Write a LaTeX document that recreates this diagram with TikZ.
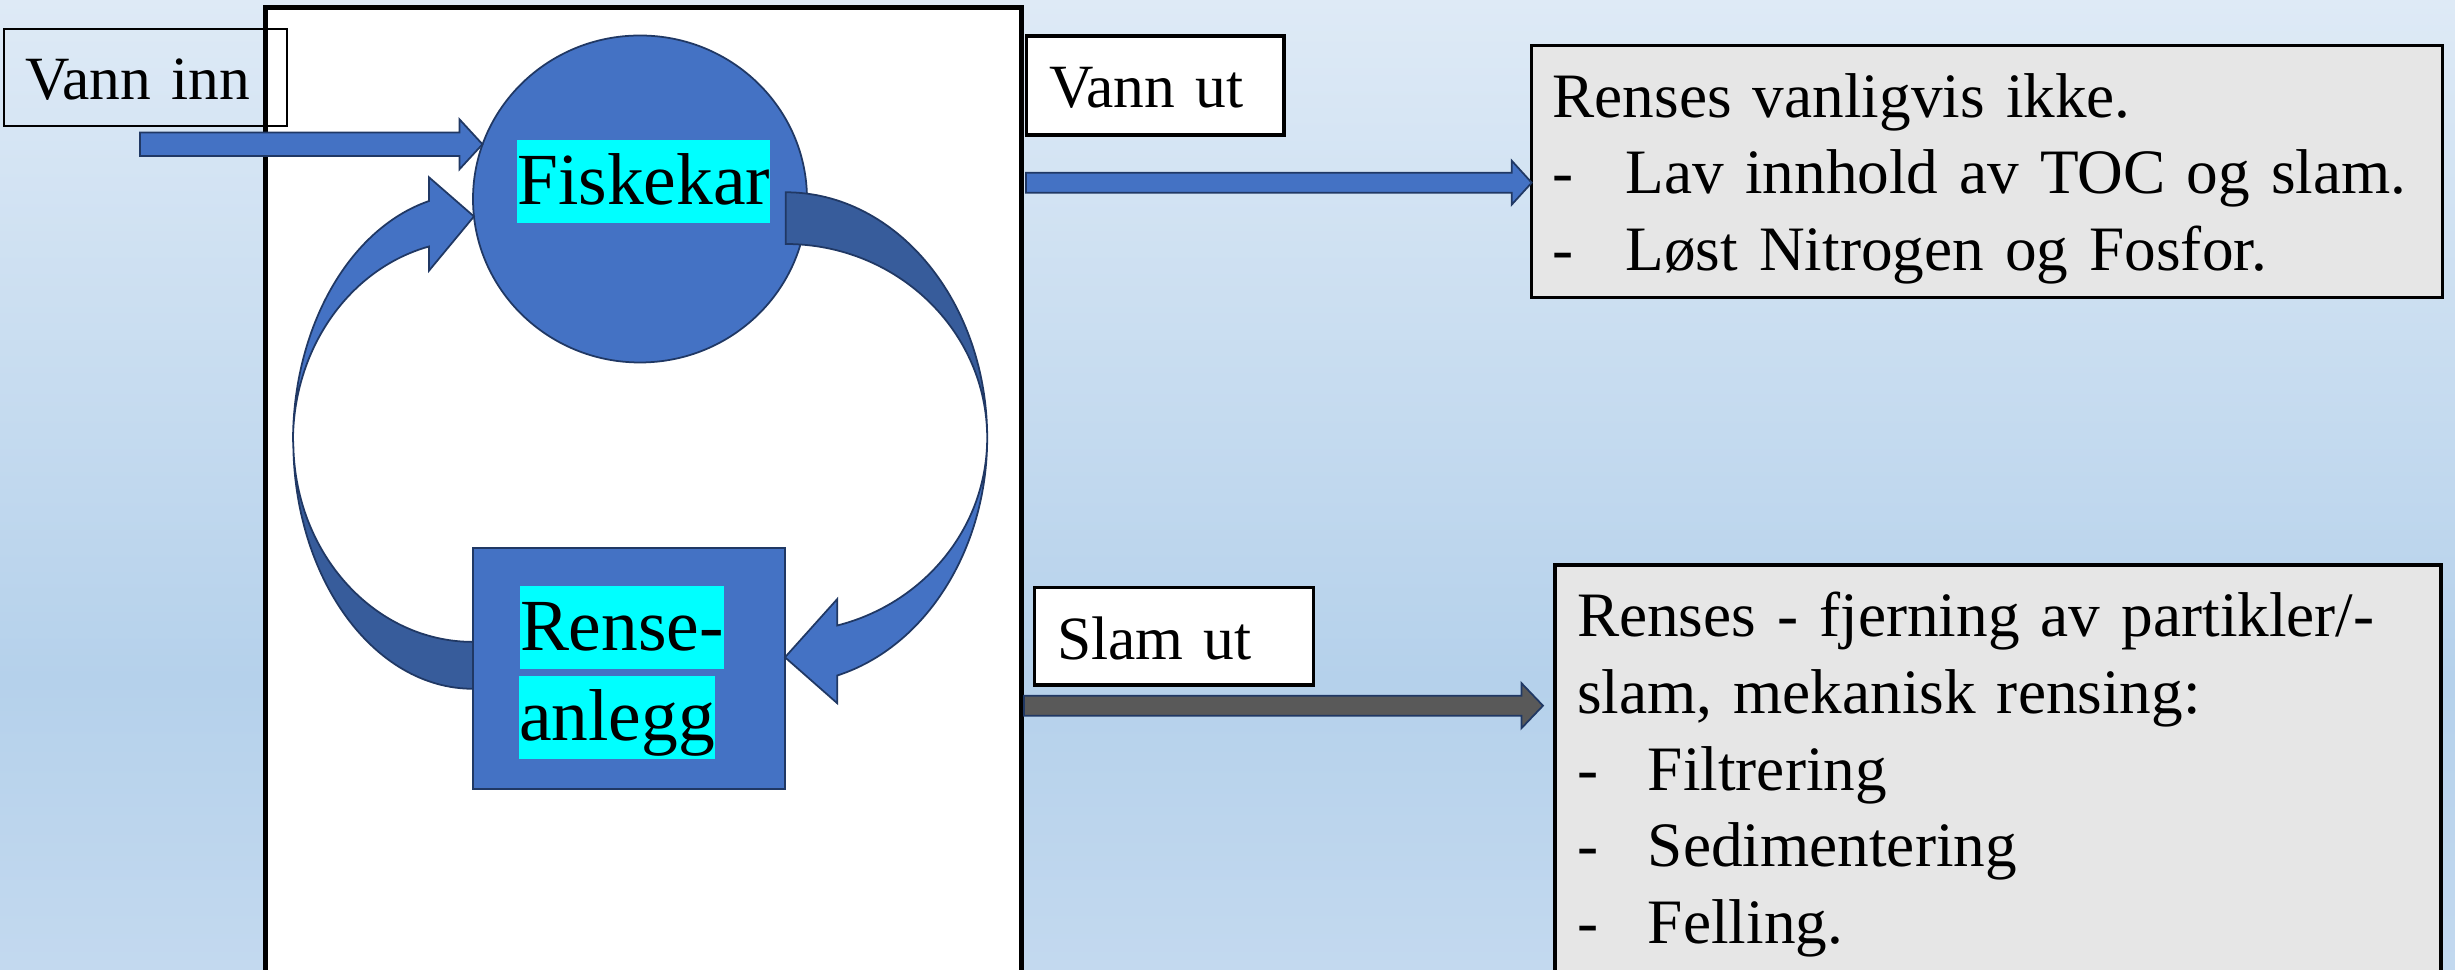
\documentclass[tikz,border=0pt]{standalone}
\usepackage{fontspec}
\setmainfont{Liberation Serif}
\usetikzlibrary{calc,positioning,shapes.geometric}

\definecolor{bgtop}{HTML}{DEEAF6}
\definecolor{bgmid}{HTML}{B5D1EB}
\definecolor{bgbot}{HTML}{C3D9EF}
\definecolor{pilblaa}{HTML}{4472C4}
\definecolor{pilmork}{HTML}{375C9B}
\definecolor{kantblaa}{HTML}{203864}
\definecolor{slamgraa}{HTML}{595959}
\definecolor{infograa}{HTML}{E6E6E6}
\definecolor{markering}{HTML}{00FFFF}

\pgfdeclareverticalshading{lysbakgrunn}{100bp}{color(0bp)=(bgbot); color(25bp)=(bgbot); color(40bp)=(bgmid); color(75bp)=(bgtop); color(100bp)=(bgtop)}

% flat block arrow: start, tip, half shaft, half head, head length, style
\newcommand{\blokkpil}[6]{%
  \filldraw[#6] ($(#1)+(0,#3)$) -- ($(#2)+(-#5,#3)$) -- ($(#2)+(-#5,#4)$) -- (#2)
    -- ($(#2)+(-#5,-#4)$) -- ($(#2)+(-#5,-#3)$) -- ($(#1)+(0,-#3)$) -- cycle;}

\begin{document}
\begin{tikzpicture}[outer sep=0pt,
    etikett/.style={draw, fill=white, line width=0.9pt, anchor=north west, inner ysep=0.1cm,
                    align=left, font=\fontsize{17.5}{21}\selectfont},
    infoboks/.style={draw, line width=0.9pt, fill=infograa, anchor=north west, inner ysep=0pt,
                     align=left, font=\fontsize{18}{21.8}\selectfont},
    markert/.style={fill=markering, inner sep=0pt, text height=0.65cm, text depth=0.177cm,
                    font=\fontsize{20.9}{25}\selectfont},
    figur/.style={draw=kantblaa, line width=0.5pt, fill=pilblaa},
    bakside/.style={draw=kantblaa, line width=0.5pt, fill=pilmork}]
  \useasboundingbox (0,0) rectangle (24.55,9.70);
  % background
  \shade[shading=lysbakgrunn] (0,0) rectangle (24.55,9.70);

  % the plant
  \node[draw, line width=1.3pt, fill=white, anchor=north west, minimum width=7.562cm,
        minimum height=10.5cm] (anlegg) at (2.655,9.627) {};
  \node[figur, ellipse, minimum width=3.34cm, minimum height=3.27cm] (fiskekar) at (6.40,7.71) {};
  \node[figur, minimum width=3.12cm, minimum height=2.41cm] (renseanlegg) at (6.29,3.015) {};

  % loop back from the cleaning plant to the tank
  \filldraw[bakside] (renseanlegg.west |- 0,2.812)
    arc[start angle=270, end angle=180, x radius=1.797cm, y radius=2.476cm]
    arc[start angle=180, end angle=270, x radius=1.797cm, y radius=2.007cm] -- cycle;
  \filldraw[figur] (2.930,5.288)
    arc[start angle=180, end angle=104.07, x radius=1.797cm, y radius=2.476cm]
    -- (4.29,7.927) -- (fiskekar.186) -- (4.29,6.993) -- (4.29,7.235)
    arc[start angle=104.07, end angle=180, x radius=1.797cm, y radius=2.007cm] -- cycle;

  % from the tank down to the cleaning plant
  \filldraw[bakside] (7.857,7.777)
    arc[start angle=90, end angle=0, x radius=2.015cm, y radius=2.457cm]
    arc[start angle=0, end angle=90, x radius=2.015cm, y radius=1.94cm] -- cycle;
  \filldraw[figur] (9.872,5.32)
    arc[start angle=0, end angle=-75.16, x radius=2.015cm, y radius=2.457cm]
    -- (8.373,2.667) -- ($(renseanlegg.east)+(0,0.112)$) -- (8.373,3.71) -- (8.373,3.445)
    arc[start angle=-75.16, end angle=0, x radius=2.015cm, y radius=1.94cm] -- cycle;

  \node[markert, anchor=base] (fisketekst) at (6.439,7.65) {Fiskekar};
  \node[markert, anchor=base west] (rensetekst) at (5.20,3.19) {Rense-};
  \node[markert, anchor=base west] (anleggtekst) at (5.19,2.29) {anlegg};

  % in and out
  \node[etikett, fill=none, line width=0.5pt, text width=2.41cm, inner xsep=0.207cm,
        text height=0.61cm, text depth=0.157cm] (vanninn) at (0.043,9.41) {Vann inn};
  \node[etikett, text width=2.127cm, inner xsep=0.223cm,
        text height=0.62cm, text depth=0.17cm] (vannut) at (10.267,9.34) {Vann ut};
  \node[etikett, text width=2.336cm, inner xsep=0.227cm,
        text height=0.627cm, text depth=0.15cm] (slamut) at (10.343,3.827) {Slam ut};

  \node[infoboks, text width=8.69cm, inner xsep=0.21cm] (ikkerens) at (15.317,9.243)
    {\rule{0pt}{0.716cm}Renses vanligvis ikke.\\
     \makebox[0.73cm][l]{-}Lav innhold av TOC og slam.\\
     \makebox[0.73cm][l]{-}Løst Nitrogen og Fosfor.\rule[-0.27cm]{0pt}{0pt}};
  \node[infoboks, text width=8.42cm, inner xsep=0.22cm] (mekrens) at (15.55,4.05)
    {\rule{0pt}{0.72cm}Renses - fjerning av partikler/-\\
     slam, mekanisk rensing:\\
     \makebox[0.71cm][l]{-}Filtrering\\
     \makebox[0.71cm][l]{-}Sedimentering\\
     \makebox[0.71cm][l]{-}Felling.\rule[-0.8cm]{0pt}{0pt}};

  \coordinate (innstart) at (1.40,8.257);
  \coordinate (inntupp) at (innstart -| fiskekar.161);
  \coordinate (utstart) at (10.26,7.873);
  \coordinate (uttupp) at (ikkerens.west |- utstart);
  \coordinate (slamstart) at (10.24,2.643);
  \coordinate (slamtupp) at ($(mekrens.west |- slamstart)+(-0.12,0)$);
  \blokkpil{innstart}{inntupp}{0.117}{0.25}{0.23}{figur}
  \blokkpil{utstart}{uttupp}{0.10}{0.22}{0.20}{figur}
  \blokkpil{slamstart}{slamtupp}{0.10}{0.225}{0.215}{draw=kantblaa, line width=0.5pt, fill=slamgraa}
\end{tikzpicture}
\end{document}
